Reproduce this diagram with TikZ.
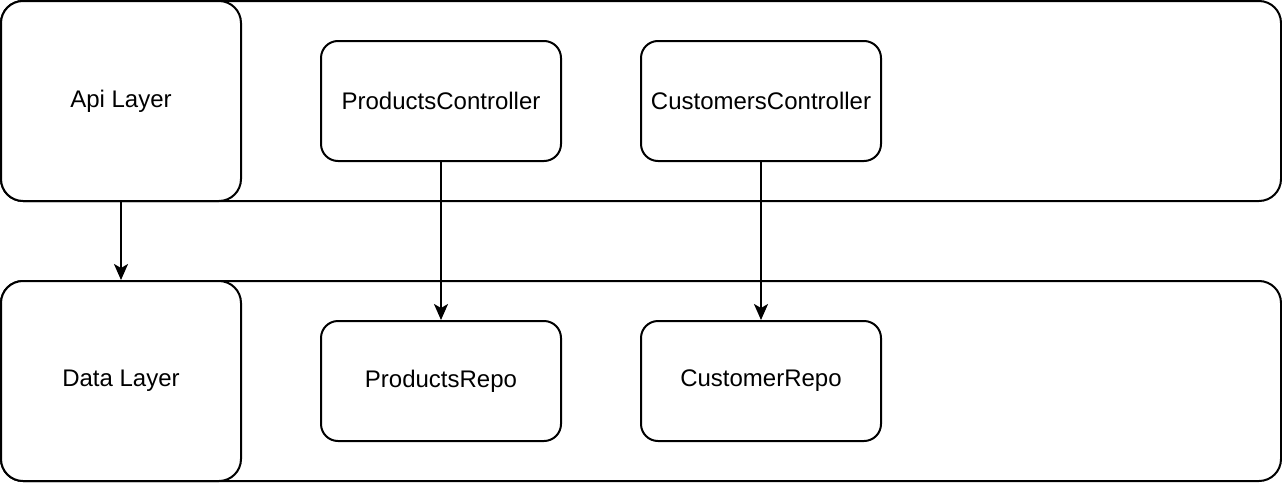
\documentclass[tikz,border=0pt]{standalone}
\usepackage{fontspec}
\setmainfont{Liberation Sans}
\usetikzlibrary{arrows.meta}
\begin{document}
\begin{tikzpicture}[x=1pt,y=-1pt,
  bigbox/.style={draw=black,line width=2pt,rounded corners=22pt,fill=white},
  smallbox/.style={draw=black,line width=2pt,rounded corners=17pt,fill=white,minimum width=240pt,minimum height=120pt,inner sep=0pt,font=\fontsize{24}{28}\selectfont},
  layerbox/.style={draw=black,line width=2pt,rounded corners=22pt,fill=white,minimum width=240pt,minimum height=200pt,inner sep=0pt,font=\fontsize{24}{28}\selectfont},
  conn/.style={line width=2pt,-{Stealth[length=16pt,width=14pt,inset=4pt]}}]
\useasboundingbox (0,0) rectangle (1282,482);
% layer frames
\node[bigbox,minimum width=1280pt,minimum height=200pt,inner sep=0pt] (apiframe) at (641,101) {};
\node[bigbox,minimum width=1280pt,minimum height=200pt,inner sep=0pt] (dataframe) at (641,381) {};
% layer labels
\node[layerbox] (api) at (121,101) {Api Layer};
\node[layerbox] (data) at (121,381) {Data Layer};
% components
\node[smallbox] (pc) at (441,101) {ProductsController};
\node[smallbox] (cc) at (761,101) {CustomersController};
\node[smallbox] (pr) at (441,381) {ProductsRepo};
\node[smallbox] (cr) at (761,381) {CustomerRepo};
% connectors
\draw[conn] (api.south) -- (data.north);
\draw[conn] (pc.south) -- (pr.north);
\draw[conn] (cc.south) -- (cr.north);
\end{tikzpicture}
\end{document}
